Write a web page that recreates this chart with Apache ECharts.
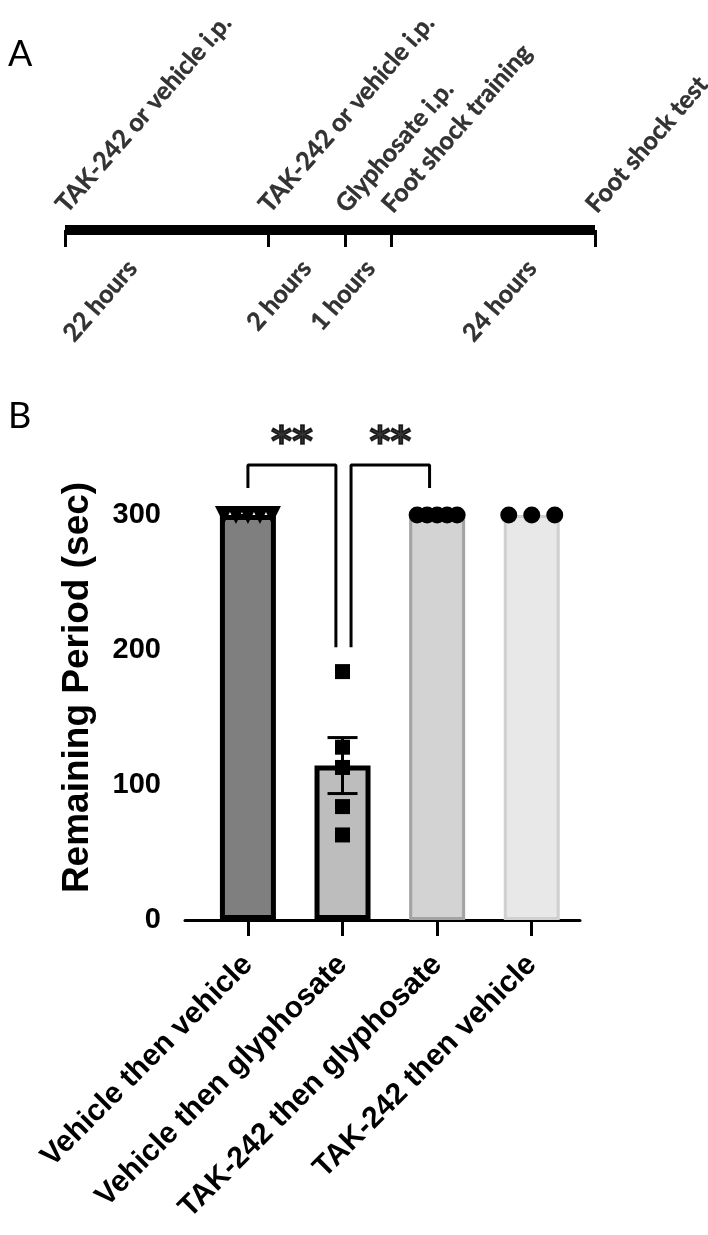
<!DOCTYPE html>
<html>
<head>
<meta charset="utf-8">
<script src="https://cdn.jsdelivr.net/npm/echarts@6/dist/echarts.min.js"></script>
<style>html,body{margin:0;padding:0;background:#fff}#c{width:708px;height:1235px}</style>
</head>
<body>
<div id="c"></div>
<script>
// ---- Panel A: timeline (schematic positions, 0-100) ----
const eventNames = ['TAK-242 or vehicle i.p.', 'TAK-242 or vehicle i.p.', 'Glyphosate i.p.', 'Foot shock training', 'Foot shock test'];
const eventPos = [0, 38.3, 52.8, 61.5, 100];
const intervalNames = ['22 hours', '2 hours', '1 hours', '24 hours'];
const intervalLabelPos = [12.7, 45.6, 57.6, 88.1];

// ---- Panel B: bar chart ----
const categories = ['Vehicle then vehicle', 'Vehicle then glyphosate', 'TAK-242 then glyphosate', 'TAK-242 then vehicle'];
const g1Points = [300, 300, 300, 300, 300];
const g2Points = [184, 128, 113, 84, 63];
const g3Points = [300, 300, 300, 300, 300];
const g4Points = [300, 300, 300];
const yTicks = [0, 100, 200, 300];
const bracket1 = [[0, 320], [0, 337], [0.93, 337], [0.93, 202]];
const bracket2 = [[1.09, 202], [1.09, 337], [1.92, 337], [1.92, 320]];
const sigLabels = ['**', '**'];
const sigY = 352;

const groups = [g1Points, g2Points, g3Points, g4Points];
const mean = a => a.reduce((s, v) => s + v, 0) / a.length;
const sem = a => { const m = mean(a); const sd = Math.sqrt(a.reduce((s, v) => s + (v - m) * (v - m), 0) / (a.length - 1)); return sd / Math.sqrt(a.length); };
const means = groups.map(mean);

const chart = echarts.init(document.getElementById('c'), null, {renderer: 'canvas'});

const barStyles = [
  {color: '#7f7f7f', borderColor: '#000', borderWidth: 5},
  {color: '#bdbdbd', borderColor: '#000', borderWidth: 5},
  {color: {type: 'linear', x: 0, y: 0, x2: 1, y2: 0, colorStops: [
    {offset: 0, color: '#b4b4b4'}, {offset: 0.07, color: '#d3d3d3'}, {offset: 0.93, color: '#d3d3d3'}, {offset: 1, color: '#b4b4b4'}]},
   borderColor: '#a3a3a3', borderWidth: 3},
  {color: {type: 'linear', x: 0, y: 0, x2: 1, y2: 0, colorStops: [
    {offset: 0, color: '#dadada'}, {offset: 0.07, color: '#e8e8e8'}, {offset: 0.93, color: '#e8e8e8'}, {offset: 1, color: '#dadada'}]},
   borderColor: '#d0d0d0', borderWidth: 3}
];

const jitter = [[-24, -12, 0, 12, 24], [0, 0, 0, 0, 0], [-20, -10, 0, 10, 20], [-23, 0, 23]];
const symbols = ['triangle', 'rect', 'circle', 'circle'];
const symSizes = [18, 15, 17, 17];

const pointSeries = groups.map((g, gi) => ({
  type: 'scatter', xAxisIndex: 1, yAxisIndex: 1, clip: false, z: 5,
  symbol: symbols[gi], symbolSize: symSizes[gi], symbolRotate: gi === 0 ? 180 : 0,
  itemStyle: {color: '#000', opacity: 1},
  data: g.map((v, i) => ({value: [gi, v], symbolOffset: [jitter[gi][i], 0]})),
  silent: true
}));

const lineStyleB = {color: '#000', width: 3};
const arialBold = {fontFamily: 'Liberation Sans, Arial', fontWeight: 'bold', color: '#000'};
const panelAFont = {fontFamily: 'Lato', fontWeight: 'bold', color: '#000', textBorderColor: '#000', textBorderWidth: 0.4};

const option = {
  animation: false,
  backgroundColor: '#fff',
  graphic: [
    {type: 'text', left: 8, top: 36, style: {text: 'A', font: '36px Lato', fill: '#000'}},
    {type: 'text', left: 8, top: 398, style: {text: 'B', font: '36px Lato', fill: '#000'}}
  ],
  grid: [
    {left: 65, right: 113, top: 100, height: 130},
    {left: 185, right: 128, top: 515, bottom: 315}
  ],
  xAxis: [
    {gridIndex: 0, type: 'value', min: 0, max: 100,
     axisLine: {show: true, lineStyle: {color: '#000', width: 10, cap: 'butt'}},
     axisTick: {show: true, customValues: eventPos, length: 17, lineStyle: {color: '#000', width: 3}},
     axisLabel: {show: false}, splitLine: {show: false}},
    {gridIndex: 1, type: 'value', min: -0.665, max: 3.51,
     axisLine: {show: true, onZero: false, lineStyle: {color: '#000', width: 3}},
     axisTick: {show: true, customValues: [0, 1, 2, 3], length: 16, lineStyle: {color: '#000', width: 3}},
     axisLabel: Object.assign({show: true, customValues: [0, 1, 2, 3], formatter: v => categories[Math.round(v)] || '',
       rotate: 45, margin: 40, fontSize: 30}, arialBold),
     splitLine: {show: false}}
  ],
  yAxis: [
    {gridIndex: 0, type: 'value', min: 0, max: 1, show: false},
    {gridIndex: 1, type: 'value', min: 0, max: 300, interval: 100,
     axisLine: {show: true, lineStyle: {color: '#000', width: 3}},
     axisTick: {show: true, length: 15, lineStyle: {color: '#000', width: 3}},
     axisLabel: Object.assign({show: true, margin: 24, fontSize: 29,
       formatter: v => yTicks.includes(v) ? String(v) : ''}, arialBold),
     splitLine: {show: false},
     name: 'Remaining Period (sec)', nameLocation: 'middle', nameGap: 89, nameMoveOverlap: false,
     nameTextStyle: Object.assign({fontSize: 37, padding: [0, 0, 0, 60]}, arialBold)}
  ],
  series: [
    {type: 'scatter', xAxisIndex: 0, yAxisIndex: 0, symbolSize: 0, clip: false, silent: true,
     data: eventPos.map(p => [p, 0]),
     label: Object.assign({show: true, formatter: p => eventNames[p.dataIndex], position: [-4, -21], align: 'left', verticalAlign: 'middle',
       rotate: 49, fontSize: 25}, panelAFont)},
    {type: 'scatter', xAxisIndex: 0, yAxisIndex: 0, symbolSize: 0, clip: false, silent: true,
     data: intervalLabelPos.map(p => [p, 0]),
     label: Object.assign({show: true, formatter: p => intervalNames[p.dataIndex], position: [0, 34], align: 'right', verticalAlign: 'middle',
       rotate: 49, fontSize: 25}, panelAFont)},
    {type: 'bar', xAxisIndex: 1, yAxisIndex: 1, barWidth: 56, z: 2, silent: true,
     data: means.map((m, i) => ({value: [i, m], itemStyle: barStyles[i]}))},
    {type: 'custom', xAxisIndex: 1, yAxisIndex: 1, z: 3, silent: true,
     data: groups.map((g, i) => [i, means[i], g.length > 1 ? sem(g) : 0]).filter(d => d[2] > 0),
     renderItem: (params, api) => {
       const x = api.value(0), m = api.value(1), s = api.value(2);
       const t = api.coord([x, m + s]), b = api.coord([x, m - s]);
       const hw = 15;
       const st = {stroke: '#000', lineWidth: 3};
       return {type: 'group', children: [
         {type: 'line', shape: {x1: t[0], y1: t[1], x2: b[0], y2: b[1]}, style: st},
         {type: 'line', shape: {x1: t[0] - hw, y1: t[1], x2: t[0] + hw, y2: t[1]}, style: st},
         {type: 'line', shape: {x1: b[0] - hw, y1: b[1], x2: b[0] + hw, y2: b[1]}, style: st}
       ]};
     }},
    ...pointSeries,
    {type: 'line', xAxisIndex: 1, yAxisIndex: 1, data: bracket1, symbol: 'none', clip: false, lineStyle: lineStyleB, silent: true, z: 4},
    {type: 'line', xAxisIndex: 1, yAxisIndex: 1, data: bracket2, symbol: 'none', clip: false, lineStyle: lineStyleB, silent: true, z: 4},
    {type: 'scatter', xAxisIndex: 1, yAxisIndex: 1, symbolSize: 0, clip: false, silent: true,
     data: [bracket1, bracket2].map(b => [(b[1][0] + b[2][0]) / 2, sigY]),
     label: {show: true, position: 'inside', formatter: p => sigLabels[p.dataIndex], align: 'center', verticalAlign: 'middle',
       fontFamily: 'DejaVu Sans', fontWeight: 'bold', fontSize: 40, color: '#000', textBorderColor: '#000', textBorderWidth: 1.5}}
  ]
};
chart.setOption(option);
</script>
</body>
</html>
